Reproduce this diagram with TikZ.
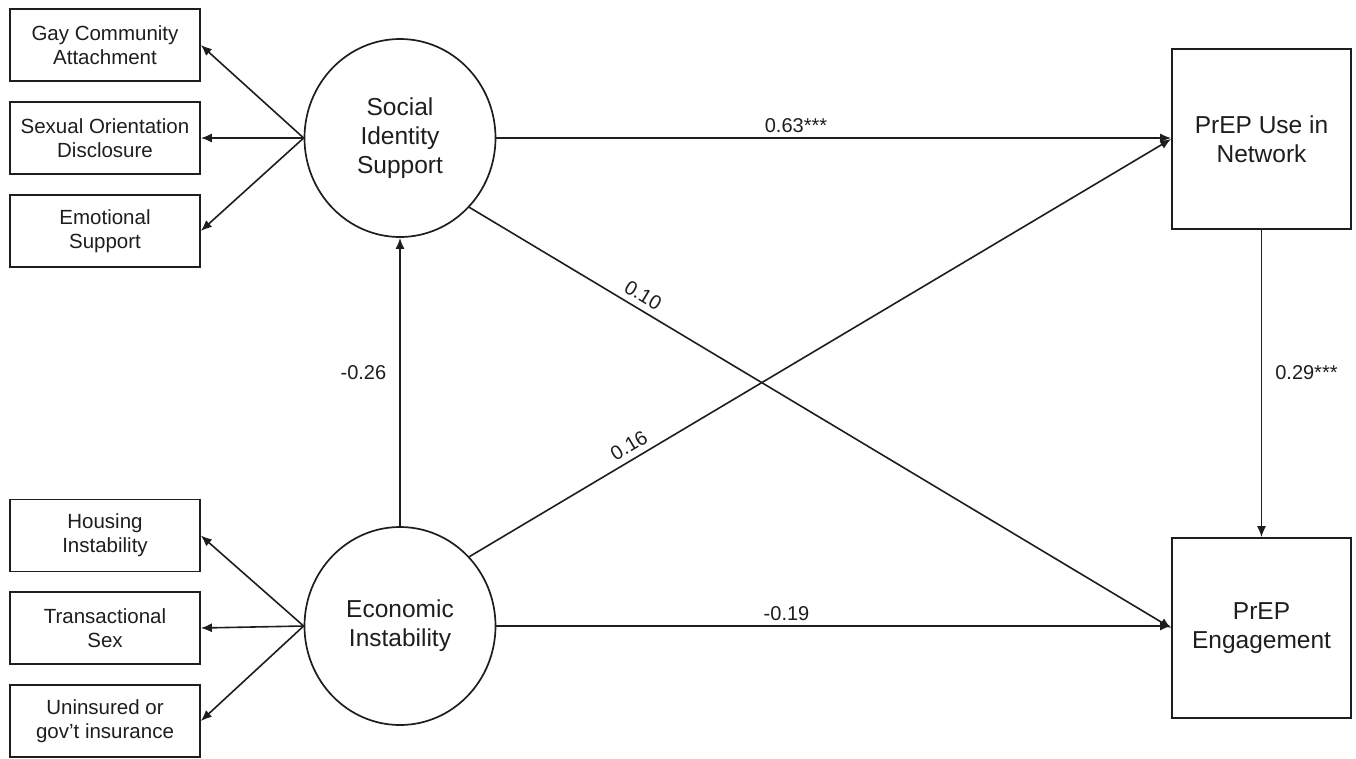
\documentclass[tikz,border=0pt]{standalone}
\usepackage{fontspec}
\setmainfont{Liberation Sans}
\usetikzlibrary{shapes.geometric,arrows.meta}
\definecolor{ink}{RGB}{30,30,30}
\tikzset{
  ind/.style={draw=ink, line width=1.7pt, minimum width=190pt, minimum height=72pt, inner sep=0pt, align=center, font=\fontsize{20.5}{24}\selectfont, text=ink},
  lat/.style={draw=ink, line width=1.7pt, ellipse, minimum width=191pt, minimum height=198pt, inner sep=0pt, align=center, font=\fontsize{24.5}{29}\selectfont, text=ink},
  outc/.style={draw=ink, line width=1.7pt, minimum width=179pt, minimum height=180pt, inner sep=0pt, align=center, font=\fontsize{24.5}{29}\selectfont, text=ink},
  conn/.style={draw=ink, line width=1.6pt, -{Latex[length=11pt,width=9pt]}},
  lbl/.style={font=\fontsize{20}{24}\selectfont, text=ink, inner sep=0pt}
}
\begin{document}
\begin{tikzpicture}[x=1pt,y=-1pt]
\useasboundingbox[fill=white] (0,0) rectangle (1356,758);
% indicator boxes
\node[ind] (b1) at (105,45) {Gay Community\\Attachment};
\node[ind] (b2) at (105,138) {Sexual Orientation\\Disclosure};
\node[ind] (b3) at (105,231) {Emotional\\Support};
\node[ind] (b4) at (105,535.5) {Housing\\Instability};
\node[ind] (b5) at (105,628) {Transactional\\Sex};
\node[ind] (b6) at (105,721) {Uninsured or\\gov't insurance};
% latent variables
\node[lat] (sis) at (400,138) {Social\\Identity\\Support};
\node[lat] (econ) at (400,626) {Economic\\Instability};
% outcomes
\node[outc] (use) at (1261.5,139) {PrEP Use in\\Network};
\node[outc] (eng) at (1261.5,628) {PrEP\\Engagement};
% measurement arrows
\draw[conn] (sis.west) -- (b1.east);
\draw[conn] (sis.west) -- (b2.east);
\draw[conn] (sis.west) -- (b3.east);
\draw[conn] (econ.west) -- (b4.east);
\draw[conn] (econ.west) -- (b5.east);
\draw[conn] (econ.west) -- (b6.east);
% structural paths
\draw[conn] (econ.north) -- node[lbl, pos=0.531, left=13pt] {-0.26} (sis.south);
\draw[conn] (sis.east) -- node[lbl, pos=0.444, above=5pt] {0.63***} (sis.east -| use.west);
\draw[conn] (sis.-45) -- node[lbl, pos=0.2375, sloped, above=6pt] {0.10} (eng.west);
\draw[conn] (econ.45) -- node[lbl, pos=0.2375, sloped, above=6pt] {0.16} (use.west);
\draw[conn] (econ.east) -- node[lbl, pos=0.43, above=5pt] {-0.19} (econ.east -| eng.west);
\draw[conn] (use.south) -- node[lbl, pos=0.466, right=13pt] {0.29***} (eng.north);
\end{tikzpicture}
\end{document}
